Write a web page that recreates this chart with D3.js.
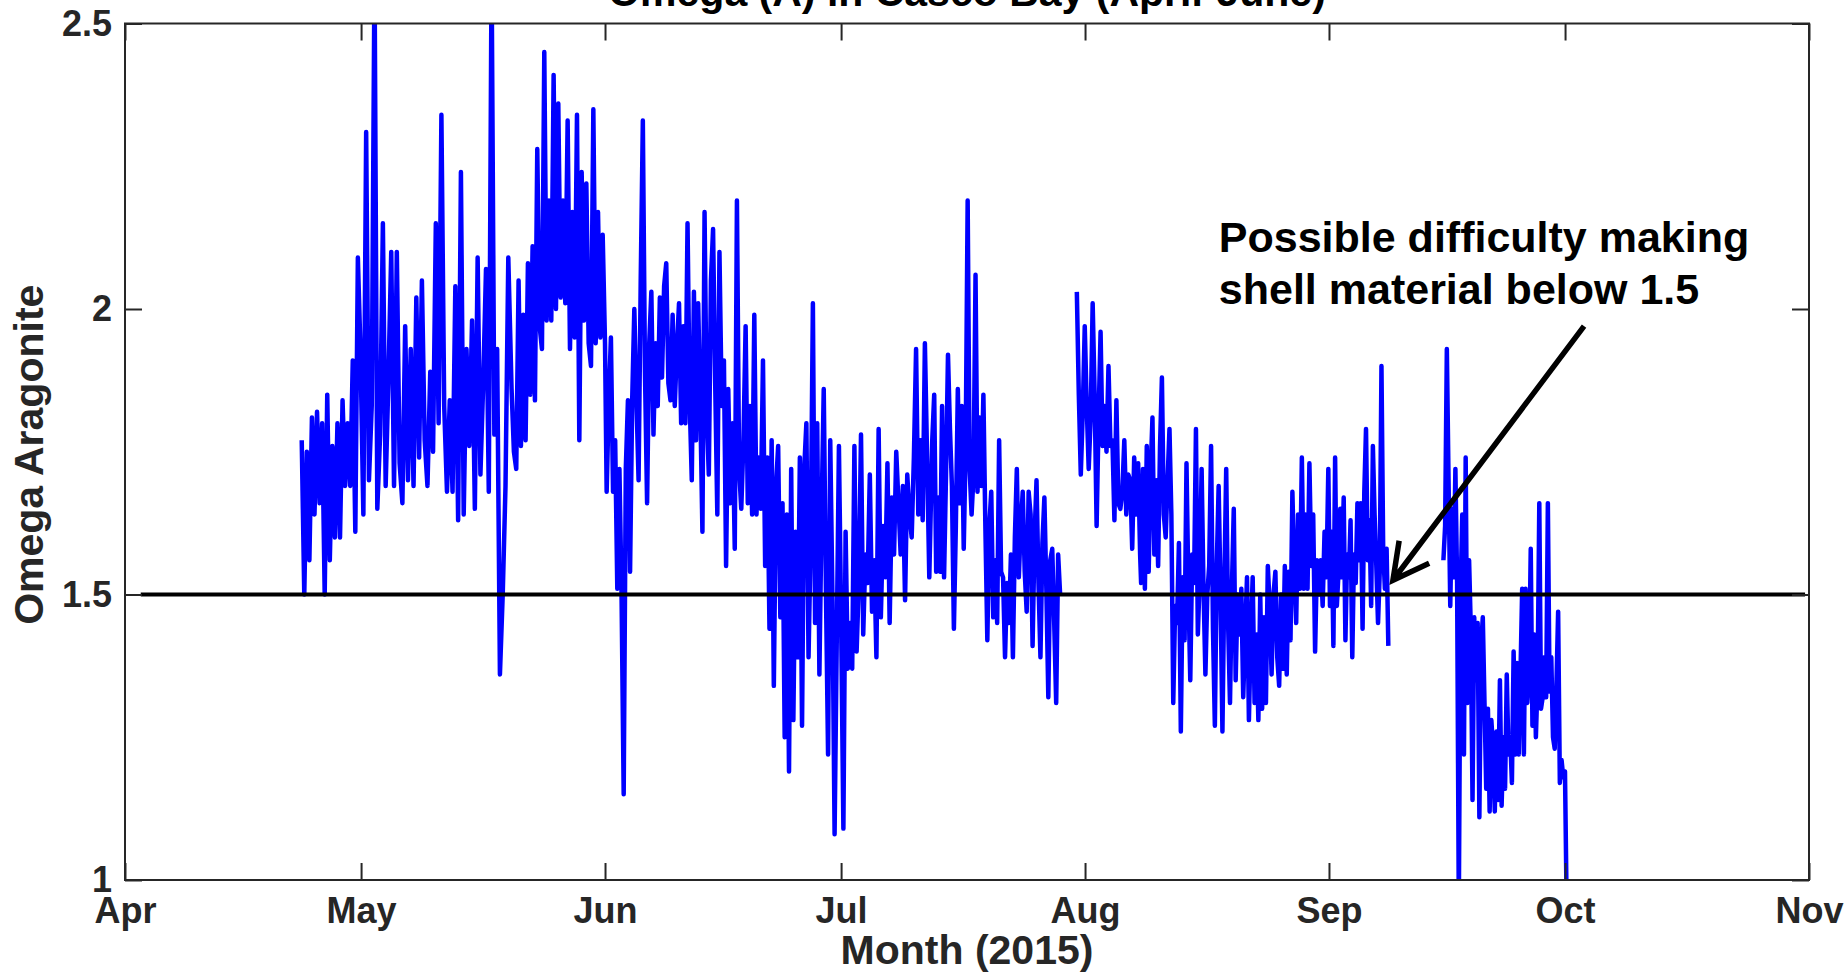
<!DOCTYPE html>
<html>
<head>
<meta charset="utf-8">
<script src="https://d3js.org/d3.v7.min.js"></script>
<style>
  body { margin: 0; background: #fff; }
  svg text { font-family: "Liberation Sans", Arial, Helvetica, sans-serif; font-weight: bold; }
</style>
</head>
<body>
<svg id="chart" width="1847" height="974"></svg>
<script>
// Omega aragonite readings, one array per stretch of the record
var omegaApr = [1.77,1.50,1.75,1.56,1.81,1.64,1.82,1.66,1.80,1.50,1.85,1.56,1.76,1.60,1.80,1.60,1.84,1.69,1.80,1.69,1.91,1.61,2.09,1.93];
var omegaMay1 = [1.64,2.31,1.70,1.83,2.60,1.65,1.78,2.15,1.69,1.88,2.10,1.69,2.10,1.73,1.66,1.97,1.70,1.93,1.69,2.02,1.74,2.05,1.77,1.69,1.89,1.75,2.15,1.80,2.34,1.83,1.68,1.84,1.68,2.04,1.63,2.24,1.64,1.93,1.76,1.98,1.65,2.09,1.71,1.87,2.07,1.68,2.60,1.78,1.93,1.36,1.50,1.69,2.09];
var omegaMay2 = [1.86,1.75,1.72,2.05,1.76,1.99,1.77,2.08,1.85,2.11,1.84,2.28,1.97,1.93,2.45,1.98,2.19,1.98,2.41,2.00,2.36,2.02,2.19,2.01,2.33,1.93,2.17,1.95,2.34,1.77,2.24,1.98,2.22,1.94,1.90,2.35,1.94,2.17,1.95,2.13,1.94];
var omegaJun1 = [1.68,1.84,1.95,1.68,1.77,1.51,1.72,1.50,1.15,1.72,1.84,1.54,1.84,2.00,1.84,1.70,2.05,2.33,1.89,1.66,1.94,2.03,1.78,1.94,1.83,2.02,1.88,2.04,2.08,1.87,1.84,1.99,1.83,1.93,2.01,1.80,1.97,1.80,2.15,1.84,1.70,2.03,1.77,2.01,1.83,1.61,2.17,1.82,1.71,2.05,2.14,1.87,1.64,2.10];
var omegaJun2 = [1.83,1.91,1.55,1.86,1.66,1.80,1.58,2.19,1.72,1.65,1.77,1.97,1.66,1.83,1.64,1.99,1.64,1.74,1.65,1.91,1.55,1.74,1.44,1.77,1.34,1.69,1.76,1.46,1.66,1.25,1.64,1.19,1.72,1.28,1.61,1.39,1.74,1.27,1.72,1.80,1.39,1.60,2.01,1.45,1.80,1.36,1.64,1.86,1.51,1.22,1.77,1.50,1.08,1.42,1.76,1.46];
var omegaJul1 = [1.09,1.61,1.37,1.45,1.37,1.76,1.40,1.52,1.78,1.43,1.57,1.52,1.71,1.47,1.56,1.39,1.79,1.46,1.62,1.53,1.73,1.45,1.67,1.57,1.75,1.66,1.57,1.69,1.49,1.71,1.64,1.60,1.74,1.93,1.64,1.77,1.63,1.94,1.74,1.53];
var omegaJul2 = [1.77,1.85,1.54,1.67,1.54,1.83,1.53,1.71,1.92,1.79,1.69,1.44,1.62,1.86,1.66,1.83,1.58,1.76,2.19,1.72,1.64,1.71,2.06,1.68,1.81,1.69,1.85,1.62,1.42,1.62,1.68,1.46,1.56,1.45,1.77,1.54,1.53,1.39,1.52,1.45,1.57,1.39,1.60,1.72,1.53,1.62,1.68,1.54,1.47,1.68,1.64,1.41,1.60,1.70,1.52,1.39,1.59,1.67,1.51,1.32,1.56,1.58,1.45,1.31,1.57,1.50];
var omegaAug1 = [2.03,1.85,1.71,1.82,1.97,1.83,1.72,1.81,2.01,1.85,1.62,1.81,1.96,1.76,1.83,1.75,1.90,1.76,1.77,1.63,1.84,1.66,1.65,1.68,1.77,1.64,1.71,1.70,1.58,1.74,1.64,1.73,1.57];
var omegaAug2 = [1.52,1.72,1.51,1.76,1.54,1.71,1.81,1.57,1.70,1.55,1.76,1.88,1.64,1.60,1.70,1.79,1.64,1.31,1.48,1.45,1.59,1.26,1.53,1.42,1.73,1.51,1.35,1.57,1.52,1.79,1.43,1.53,1.72,1.51,1.36,1.50,1.55,1.76,1.44,1.27,1.55,1.69,1.50,1.26,1.52,1.72,1.45,1.31,1.51,1.65,1.35,1.50,1.43,1.51,1.32,1.43,1.53,1.28,1.43,1.53,1.31,1.43,1.28,1.50,1.30,1.46,1.31,1.55,1.48,1.36,1.50,1.54,1.39,1.34,1.50,1.37,1.55,1.36,1.54,1.42,1.68,1.54,1.45,1.64,1.51,1.74,1.51,1.64,1.51,1.73,1.55,1.64,1.40,1.56,1.50,1.56,1.48,1.61,1.53,1.72];
var omegaSep1 = [1.48,1.61,1.41,1.74,1.48,1.54,1.65,1.53,1.67,1.42,1.57,1.53,1.63,1.39,1.57,1.52,1.66,1.56,1.66,1.44,1.68,1.79,1.56,1.63,1.48,1.76,1.64,1.55,1.45,1.54,1.90,1.58,1.51,1.58,1.41];
var omegaSepOct = [1.56,1.62,1.93,1.70,1.48,1.65,1.53,1.72,1.52,0.95,1.50,1.64,1.22,1.74,1.31,1.56,1.44,1.14,1.46,1.35,1.45,1.11,1.41,1.46,1.31,1.16,1.30,1.12,1.28,1.23,1.12,1.26,1.14,1.35,1.13,1.25,1.16,1.36,1.22,1.25,1.17,1.40,1.22,1.38,1.22,1.36,1.51,1.22,1.51,1.31,1.36,1.58,1.27,1.43,1.25,1.35,1.66,1.30,1.32,1.39,1.32,1.66,1.33,1.39,1.25,1.23,1.34,1.47,1.17,1.21,1.18,1.19,0.95];

// first and last reading time (UTC) of each array above; readings are evenly spaced in between
var chunkSpans = [
  ["2015-04-23T11:00", "2015-04-30T22:00"],
  ["2015-05-01T07:00", "2015-05-19T17:00"],
  ["2015-05-20T03:00", "2015-06-01T00:00"],
  ["2015-06-01T05:00", "2015-06-15T13:00"],
  ["2015-06-15T20:00", "2015-07-01T00:00"],
  ["2015-07-01T07:00", "2015-07-12T05:00"],
  ["2015-07-12T14:00", "2015-07-28T20:00"],
  ["2015-07-30T23:00", "2015-08-08T00:00"],
  ["2015-08-08T03:00", "2015-08-31T22:00"],
  ["2015-09-01T03:00", "2015-09-08T13:00"],
  ["2015-09-15T13:00", "2015-10-01T05:00"]
];
var chunkValues = [omegaApr, omegaMay1, omegaMay2, omegaJun1, omegaJun2, omegaJul1, omegaJul2,
                   omegaAug1, omegaAug2, omegaSep1, omegaSepOct];
// continuous runs of the record (gaps between runs)
var chunkRun = [0, 0, 0, 0, 0, 0, 0, 1, 1, 1, 2];

var yTicks = [1, 1.5, 2, 2.5];
var threshold = 1.5;
var thresholdSpan = ["2015-04-03T00:00", "2015-10-31T12:00"];

var titleText = "Omega (A) in Casco Bay (April-June)";
var xLabel = "Month (2015)";
var yLabel = "Omega Aragonite";
var noteLines = ["Possible difficulty making", "shell material below 1.5"];
var noteAt = ["2015-08-18T00:00", 2.10];
var arrowFrom = ["2015-10-03T10:00", 1.97];
var arrowTo = ["2015-09-09T03:00", 1.525];

/*
  layout
*/
var W = 1847, H = 974;
var margin = {left: 125, right: 38, top: 23.5, bottom: 94};
var parse = d3.utcParse("%Y-%m-%dT%H:%M");

var x = d3.scaleUtc()
    .domain([new Date(Date.UTC(2015, 3, 1)), new Date(Date.UTC(2015, 10, 1))])
    .range([margin.left, W - margin.right]);
var y = d3.scaleLinear()
    .domain([1, 2.5])
    .range([H - margin.bottom, margin.top]);

var svg = d3.select("#chart");
svg.append("rect").attr("width", W).attr("height", H).attr("fill", "#fff");

svg.append("clipPath").attr("id", "plotClip")
  .append("rect")
    .attr("x", x.range()[0]).attr("y", y.range()[1])
    .attr("width", x.range()[1] - x.range()[0])
    .attr("height", y.range()[0] - y.range()[1]);

// build the series
var points = [];
chunkValues.forEach(function (vals, i) {
  var t0 = parse(chunkSpans[i][0]), t1 = parse(chunkSpans[i][1]);
  if (i > 0 && chunkRun[i] !== chunkRun[i - 1]) points.push({t: t0, v: null});
  vals.forEach(function (v, k) {
    points.push({t: new Date(+t0 + (t1 - t0) * k / (vals.length - 1)), v: v});
  });
});

var line = d3.line()
    .defined(function (d) { return d.v !== null; })
    .x(function (d) { return x(d.t); })
    .y(function (d) { return y(d.v); });

svg.append("path")
    .datum(points)
    .attr("clip-path", "url(#plotClip)")
    .attr("fill", "none")
    .attr("stroke", "#0000ff")
    .attr("stroke-width", 4.5)
    .attr("stroke-linejoin", "round")
    .attr("d", line);

// 1.5 threshold
svg.append("line")
    .attr("x1", x(parse(thresholdSpan[0]))).attr("x2", x(parse(thresholdSpan[1])))
    .attr("y1", y(threshold)).attr("y2", y(threshold))
    .attr("stroke", "#000").attr("stroke-width", 4);

/*
  axes, MATLAB style: box with inward ticks
*/
var axisColor = "#262626";
var tickLen = 17;
var months = d3.utcMonth.range(x.domain()[0], d3.utcDay.offset(x.domain()[1], 1));

var gx = svg.append("g")
    .attr("transform", "translate(0," + y.range()[0] + ")")
    .call(d3.axisBottom(x).tickValues(months).tickFormat(d3.utcFormat("%b"))
      .tickSizeInner(-tickLen).tickSizeOuter(0).tickPadding(17));
var gxTop = svg.append("g")
    .attr("transform", "translate(0," + y.range()[1] + ")")
    .call(d3.axisTop(x).tickValues(months).tickFormat("")
      .tickSizeInner(-tickLen).tickSizeOuter(0));
var gy = svg.append("g")
    .attr("transform", "translate(" + x.range()[0] + ",0)")
    .call(d3.axisLeft(y).tickValues(yTicks).tickFormat(d3.format("~g"))
      .tickSizeInner(-tickLen).tickSizeOuter(0).tickPadding(13));
var gyRight = svg.append("g")
    .attr("transform", "translate(" + x.range()[1] + ",0)")
    .call(d3.axisRight(y).tickValues(yTicks).tickFormat("")
      .tickSizeInner(-tickLen).tickSizeOuter(0));

[gx, gxTop, gy, gyRight].forEach(function (g) {
  g.select(".domain").remove();
  g.selectAll(".tick line").attr("stroke", axisColor).attr("stroke-width", 2);
  g.selectAll(".tick text")
    .attr("fill", axisColor)
    .style("font-size", "36px");
});

svg.append("rect")
    .attr("x", x.range()[0]).attr("y", y.range()[1])
    .attr("width", x.range()[1] - x.range()[0])
    .attr("height", y.range()[0] - y.range()[1])
    .attr("fill", "none").attr("stroke", axisColor).attr("stroke-width", 2);

// labels
var midX = (x.range()[0] + x.range()[1]) / 2;
var midY = (y.range()[0] + y.range()[1]) / 2;

svg.append("text")
    .attr("x", midX).attr("y", 6)
    .attr("text-anchor", "middle")
    .style("font-size", "41px").attr("fill", "#000")
    .text(titleText);

svg.append("text")
    .attr("x", midX).attr("y", 964)
    .attr("text-anchor", "middle")
    .style("font-size", "41px").attr("fill", axisColor)
    .text(xLabel);

svg.append("text")
    .attr("transform", "translate(43," + (midY + 3) + ") rotate(-90)")
    .attr("text-anchor", "middle")
    .style("font-size", "41px").attr("fill", axisColor)
    .text(yLabel);

/*
  annotation
*/
var note = svg.append("text")
    .attr("x", x(parse(noteAt[0])))
    .attr("y", y(noteAt[1]))
    .style("font-size", "43px").attr("fill", "#000");
noteLines.forEach(function (s, i) {
  note.append("tspan")
    .attr("x", x(parse(noteAt[0])))
    .attr("dy", i === 0 ? 0 : "1.2em")
    .text(s);
});

var ax0 = x(parse(arrowFrom[0])), ay0 = y(arrowFrom[1]);
var ax1 = x(parse(arrowTo[0])), ay1 = y(arrowTo[1]);
var ang = Math.atan2(ay0 - ay1, ax0 - ax1);
var wing = 40, spread = 28 * Math.PI / 180;
var arrowPath = d3.path();
arrowPath.moveTo(ax0, ay0);
arrowPath.lineTo(ax1, ay1);
arrowPath.moveTo(ax1 + wing * Math.cos(ang - spread), ay1 + wing * Math.sin(ang - spread));
arrowPath.lineTo(ax1, ay1);
arrowPath.lineTo(ax1 + wing * Math.cos(ang + spread), ay1 + wing * Math.sin(ang + spread));

svg.append("path")
    .attr("d", arrowPath.toString())
    .attr("fill", "none")
    .attr("stroke", "#000")
    .attr("stroke-width", 5.5)
    .attr("stroke-linejoin", "miter")
    .attr("stroke-linecap", "butt");
</script>
</body>
</html>
